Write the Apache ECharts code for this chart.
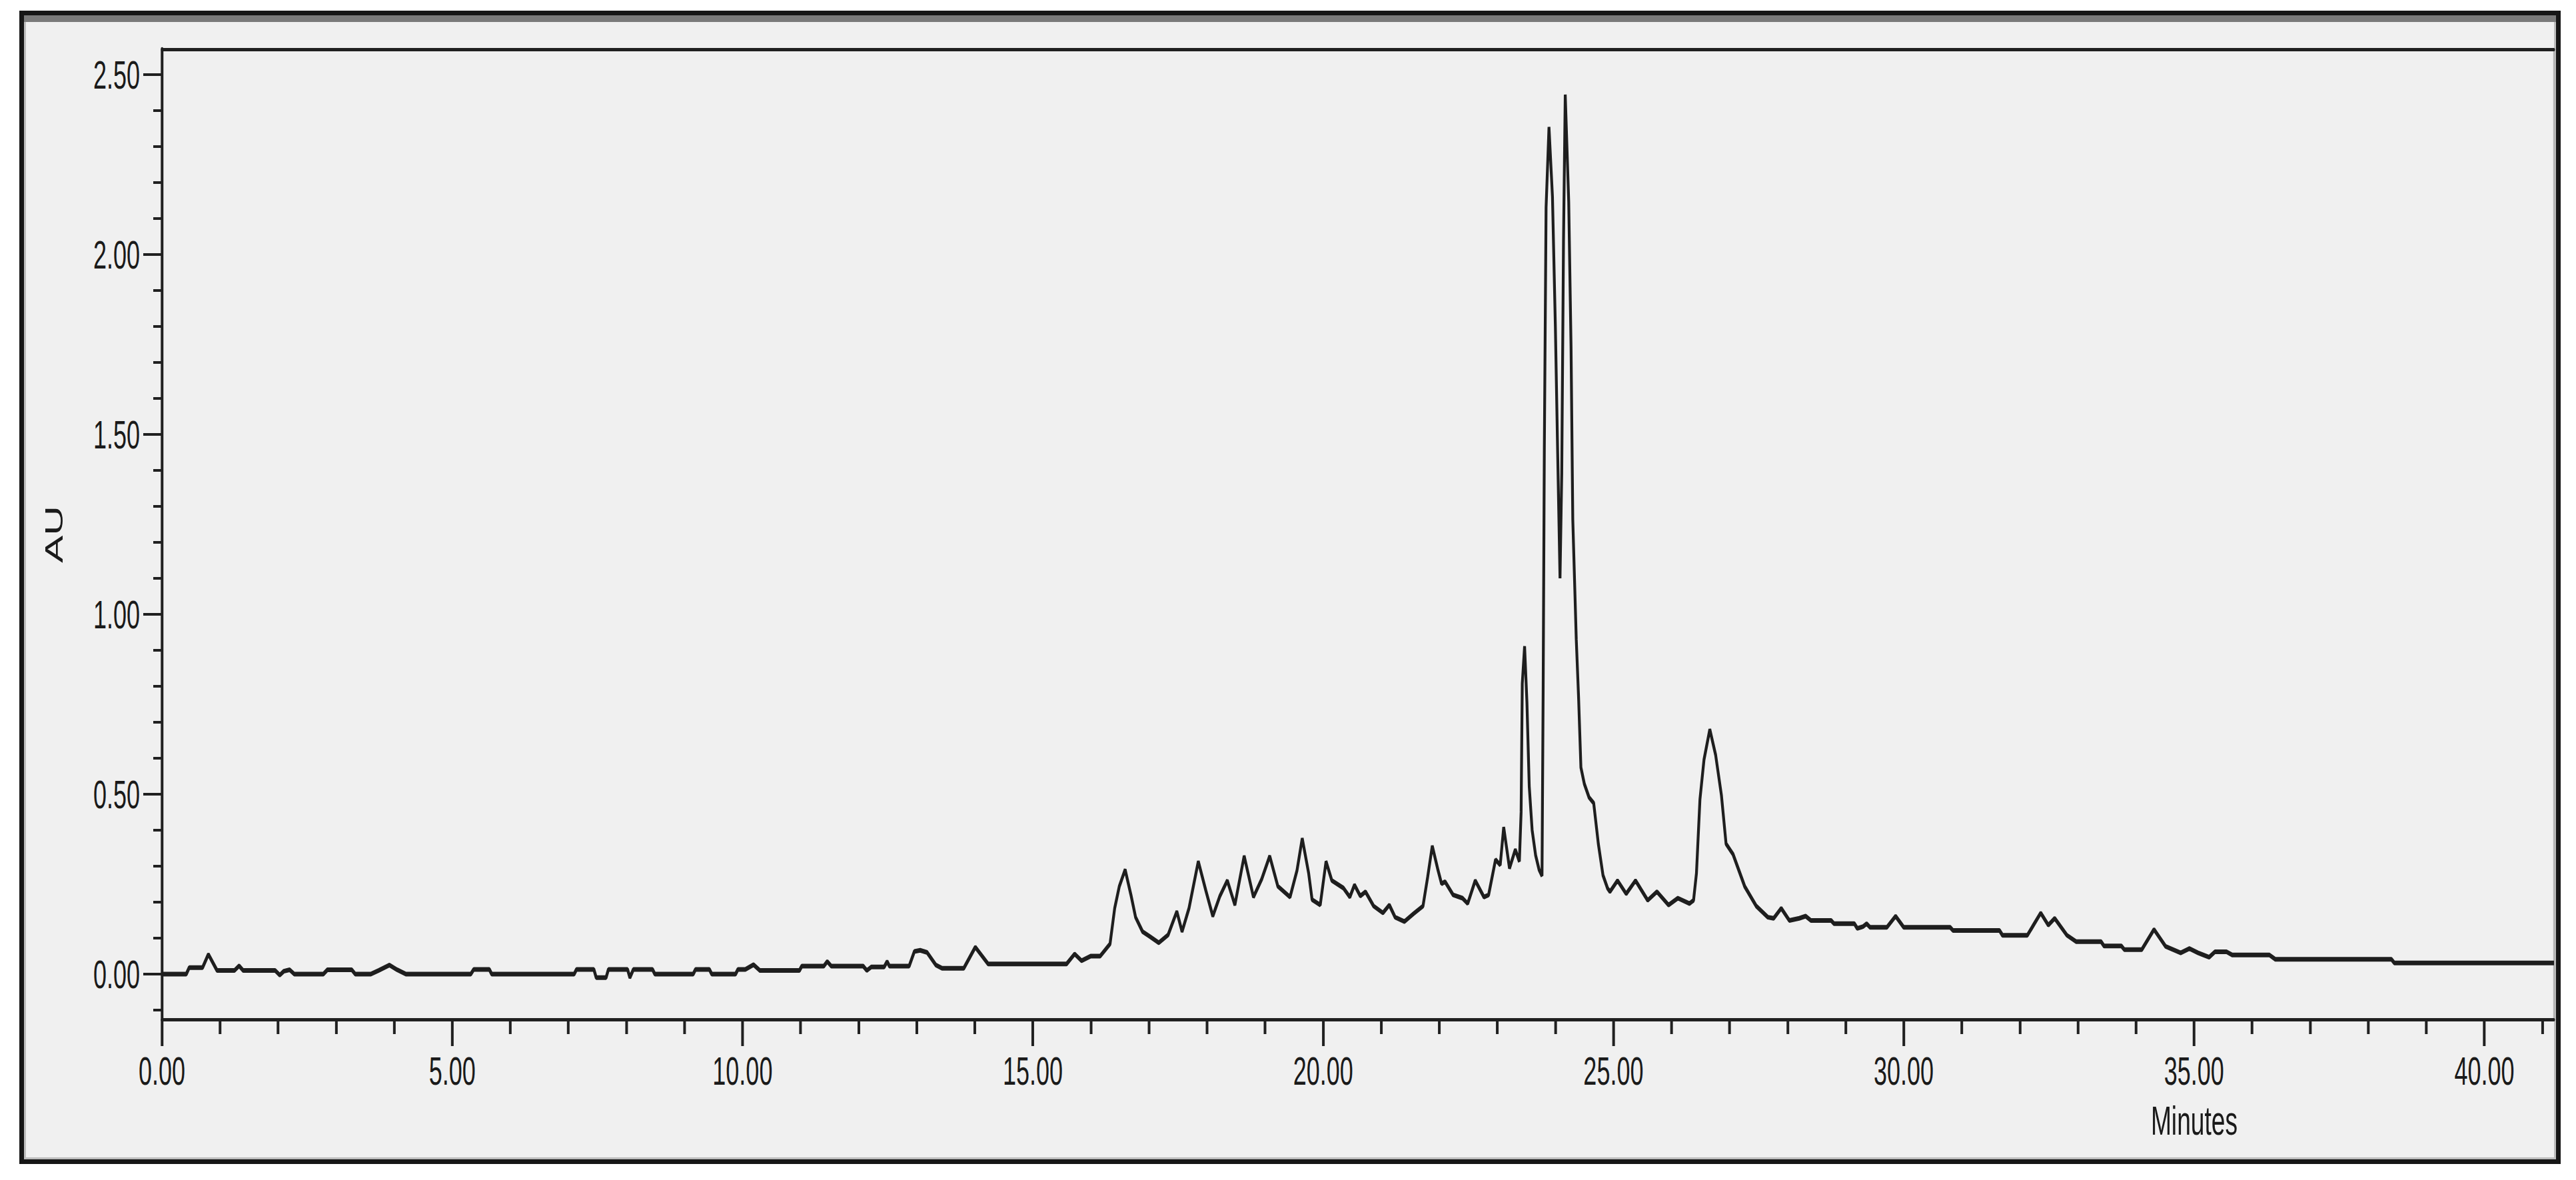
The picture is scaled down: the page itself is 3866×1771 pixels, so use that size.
<!DOCTYPE html>
<html>
<head>
<meta charset="utf-8">
<script src="https://cdn.jsdelivr.net/npm/echarts@6/dist/echarts.min.js"></script>
<style>
  html, body { margin: 0; padding: 0; background: #ffffff; overflow: hidden; }
  #frame { position: absolute; left: 29px; top: 16px; width: 3814px; height: 1731px; box-sizing: border-box;
           border: 7px solid #161616; background: #f0f0f0; box-shadow: inset 3px 0 0 #bdbdbd, inset -3px 0 0 #bdbdbd, inset 0 -3px 0 #bdbdbd; }
  #band { position: absolute; left: 36px; top: 23px; width: 3800px; height: 10px; background: #7a7a7a; }
  #wrap { position: absolute; left: 0; top: 0; width: 3866px; height: 1771px; overflow: hidden; }
  #chart { position: absolute; left: 0; top: 0; height: 1771px; transform-origin: 0 0; }
</style>
</head>
<body>
<div id="frame"></div>
<div id="band"></div>
<div id="wrap"><div id="chart"></div></div>
<script>
// ---- data ----
const times = [
  0.00, 0.42, 0.47, 0.70, 0.80, 0.95, 1.25, 1.33, 1.40, 1.95, 2.03, 2.10, 2.20, 2.28, 2.78, 2.85, 3.27, 3.33, 3.60, 3.73,
  3.92, 4.05, 4.20, 5.32, 5.37, 5.64, 5.68, 7.10, 7.14, 7.44, 7.48, 7.65, 7.69, 8.02, 8.06, 8.12, 8.45, 8.49, 9.15, 9.19,
  9.43, 9.47, 9.88, 9.92, 10.05, 10.19, 10.30, 10.98, 11.02, 11.40, 11.46, 11.53, 12.08, 12.14, 12.22, 12.44, 12.49, 12.53, 12.87, 12.96,
  13.06, 13.18, 13.33, 13.44, 13.81, 14.01, 14.23, 15.58, 15.72, 15.84, 16.00, 16.16, 16.33, 16.41, 16.49, 16.59, 16.69, 16.77, 16.89, 17.01,
  17.17, 17.33, 17.48, 17.57, 17.69, 17.85, 17.98, 18.10, 18.22, 18.35, 18.48, 18.64, 18.80, 18.94, 19.08, 19.22, 19.43, 19.55, 19.64, 19.75,
  19.81, 19.95, 20.05, 20.15, 20.35, 20.46, 20.54, 20.64, 20.73, 20.87, 21.03, 21.14, 21.24, 21.40, 21.56, 21.72, 21.80, 21.88, 21.98, 22.04,
  22.10, 22.24, 22.40, 22.49, 22.62, 22.77, 22.85, 22.97, 23.05, 23.11, 23.21, 23.31, 23.38, 23.41, 23.43, 23.47, 23.51, 23.55, 23.60, 23.66,
  23.72, 23.77, 23.79, 23.81, 23.84, 23.89, 23.95, 24.00, 24.04, 24.08, 24.11, 24.14, 24.17, 24.23, 24.27, 24.30, 24.36, 24.40, 24.44, 24.50,
  24.58, 24.66, 24.74, 24.82, 24.90, 24.94, 25.07, 25.22, 25.38, 25.59, 25.75, 25.95, 26.11, 26.31, 26.38, 26.43, 26.49, 26.56, 26.66, 26.76,
  26.86, 26.94, 27.06, 27.26, 27.46, 27.66, 27.76, 27.89, 28.03, 28.20, 28.31, 28.40, 28.75, 28.80, 29.15, 29.20, 29.30, 29.36, 29.42, 29.71,
  29.86, 30.00, 30.80, 30.85, 31.65, 31.70, 32.13, 32.36, 32.49, 32.60, 32.81, 32.97, 33.40, 33.45, 33.75, 33.80, 34.10, 34.31, 34.51, 34.77,
  34.92, 35.07, 35.26, 35.36, 35.56, 35.66, 36.30, 36.40, 38.40, 38.45, 41.20
];
const au = [
  0.000, 0.000, 0.018, 0.018, 0.055, 0.010, 0.010, 0.023, 0.010, 0.010, -0.003, 0.008, 0.012, 0.000, 0.000, 0.012, 0.012, 0.000, 0.000, 0.010,
  0.025, 0.012, 0.000, 0.000, 0.013, 0.013, 0.000, 0.000, 0.013, 0.013, -0.010, -0.010, 0.013, 0.013, -0.010, 0.013, 0.013, 0.000, 0.000, 0.013,
  0.013, 0.000, 0.000, 0.013, 0.013, 0.026, 0.010, 0.010, 0.022, 0.022, 0.035, 0.022, 0.022, 0.010, 0.020, 0.020, 0.035, 0.022, 0.022, 0.063,
  0.066, 0.060, 0.025, 0.016, 0.016, 0.075, 0.028, 0.028, 0.056, 0.037, 0.050, 0.050, 0.084, 0.183, 0.244, 0.290, 0.220, 0.158, 0.118, 0.105,
  0.087, 0.109, 0.174, 0.118, 0.183, 0.313, 0.232, 0.161, 0.216, 0.260, 0.192, 0.328, 0.214, 0.263, 0.328, 0.244, 0.214, 0.288, 0.377, 0.281,
  0.207, 0.192, 0.313, 0.260, 0.239, 0.214, 0.248, 0.217, 0.229, 0.189, 0.170, 0.192, 0.158, 0.146, 0.168, 0.189, 0.269, 0.356, 0.288, 0.251,
  0.257, 0.220, 0.211, 0.196, 0.260, 0.214, 0.220, 0.318, 0.303, 0.408, 0.294, 0.346, 0.313, 0.450, 0.807, 0.911, 0.756, 0.522, 0.400, 0.330,
  0.290, 0.273, 0.800, 1.460, 2.130, 2.354, 2.160, 1.800, 1.444, 1.100, 1.393, 2.035, 2.444, 2.146, 1.743, 1.263, 0.930, 0.768, 0.574, 0.528,
  0.491, 0.475, 0.362, 0.275, 0.238, 0.229, 0.260, 0.223, 0.260, 0.205, 0.229, 0.192, 0.211, 0.196, 0.205, 0.280, 0.485, 0.596, 0.680, 0.609,
  0.497, 0.362, 0.333, 0.244, 0.189, 0.158, 0.155, 0.183, 0.149, 0.155, 0.161, 0.149, 0.149, 0.140, 0.140, 0.127, 0.132, 0.140, 0.130, 0.130,
  0.161, 0.130, 0.130, 0.121, 0.121, 0.108, 0.108, 0.170, 0.136, 0.155, 0.108, 0.090, 0.090, 0.078, 0.078, 0.068, 0.068, 0.124, 0.077, 0.059,
  0.071, 0.059, 0.047, 0.062, 0.062, 0.053, 0.053, 0.041, 0.041, 0.031, 0.031
];
const xMajorTicks = [0, 5, 10, 15, 20, 25, 30, 35, 40];
const xMinorTicks = [1, 2, 3, 4, 6, 7, 8, 9, 11, 12, 13, 14, 16, 17, 18, 19, 21, 22, 23, 24, 26, 27, 28, 29, 31, 32, 33, 34, 36, 37, 38, 39, 41];
const yMajorTicks = [0, 0.5, 1.0, 1.5, 2.0, 2.5];
const yMinorTicks = [-0.1, 0.1, 0.2, 0.3, 0.4, 0.6, 0.7, 0.8, 0.9, 1.1, 1.2, 1.3, 1.4, 1.6, 1.7, 1.8, 1.9, 2.1, 2.2, 2.3, 2.4];
const xName = 'Minutes';
const yName = 'AU';

// ---- layout (final screen px) ----
const W = 3866, H = 1771;
const PRE_W = 6444;             // drawn wider, then compressed horizontally (condensed look of the original)
const K = W / PRE_W;
const el = document.getElementById('chart');
el.style.width = PRE_W + 'px';
el.style.transform = 'scaleX(' + K + ')';
const hx = v => v / K;          // horizontal final px -> pre-transform px

const plotLeft = 243, plotRight = 3833, plotTop = 74, plotBottom = 1530;
const FONT = "'Liberation Sans', Arial, sans-serif";
const INK = '#1a1a1a', AXIS = '#202020';
const fmt = v => Number(v).toFixed(2);
const xMin = 0, xMax = 41.2, yMin = -0.126, yMax = 2.57;

const chart = echarts.init(el, null, { renderer: 'svg', width: PRE_W, height: H });
const seriesData = times.map((t, i) => [t, au[i]]);

chart.setOption({
  animation: false,
  backgroundColor: 'transparent',
  grid: {
    left: hx(plotLeft), right: hx(W - plotRight), top: plotTop, bottom: H - plotBottom,
    containLabel: false, show: false
  },
  xAxis: [
    {
      type: 'value', min: xMin, max: xMax, position: 'bottom',
      axisLine: { show: true, onZero: false, lineStyle: { color: AXIS, width: 5 } },
      axisTick: { show: true, customValues: xMajorTicks, length: 40, lineStyle: { color: AXIS, width: hx(4) } },
      axisLabel: { show: true, customValues: xMajorTicks, formatter: fmt, fontSize: 60, fontFamily: FONT, color: INK, margin: 47 },
      splitLine: { show: false },
      name: xName, nameLocation: 'end', nameGap: -hx(plotRight - 3293),
      nameTextStyle: { fontSize: 62, fontFamily: FONT, color: INK, align: 'center', verticalAlign: 'top', padding: [121, 0, 0, 0] }
    },
    {
      type: 'value', min: xMin, max: xMax, position: 'bottom',
      axisLine: { show: false, onZero: false },
      axisTick: { show: true, customValues: xMinorTicks, length: 22, lineStyle: { color: AXIS, width: hx(4) } },
      axisLabel: { show: false }, splitLine: { show: false }
    },
    {
      type: 'value', min: xMin, max: xMax, position: 'top',
      axisLine: { show: true, onZero: false, lineStyle: { color: AXIS, width: 5 } },
      axisTick: { show: false }, axisLabel: { show: false }, splitLine: { show: false }
    }
  ],
  yAxis: [
    {
      type: 'value', min: yMin, max: yMax, position: 'left',
      axisLine: { show: true, onZero: false, lineStyle: { color: AXIS, width: hx(4) } },
      axisTick: { show: true, customValues: yMajorTicks, length: hx(28), lineStyle: { color: AXIS, width: 4 } },
      axisLabel: { show: true, customValues: yMajorTicks, formatter: fmt, fontSize: 60, fontFamily: FONT, color: INK, margin: hx(33) },
      splitLine: { show: false },
      name: yName, nameLocation: 'middle', nameRotate: 90, nameGap: hx(143),
      nameTextStyle: { fontSize: 62, fontFamily: FONT, color: INK }
    },
    {
      type: 'value', min: yMin, max: yMax, position: 'left',
      axisLine: { show: false, onZero: false },
      axisTick: { show: true, customValues: yMinorTicks, length: hx(13), lineStyle: { color: AXIS, width: 4 } },
      axisLabel: { show: false }, splitLine: { show: false }
    },
    {
      type: 'value', min: yMin, max: yMax, position: 'right',
      axisLine: { show: true, onZero: false, lineStyle: { color: '#b4b4b4', width: hx(3) } },
      axisTick: { show: false }, axisLabel: { show: false }, splitLine: { show: false }
    }
  ],
  series: [
    {
      type: 'line', name: 'AU', xAxisIndex: 0, yAxisIndex: 0,
      data: seriesData, showSymbol: false, symbol: 'none', smooth: false,
      lineStyle: { color: '#1e1e1e', width: 7 }, clip: true
    }
  ]
});
</script>
</body>
</html>
